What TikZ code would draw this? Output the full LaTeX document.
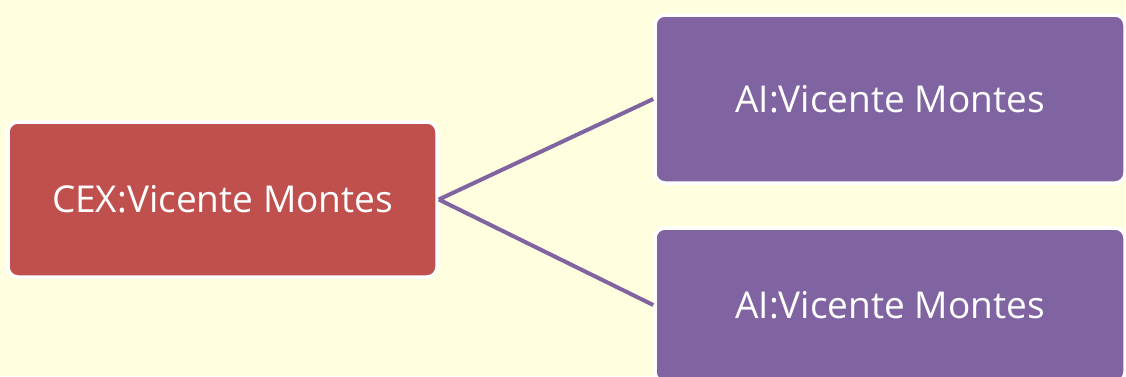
\documentclass[tikz,border=0pt]{standalone}
\usepackage{fontspec}
\setmainfont{Open Sans}
\usepackage{tikz}
\usetikzlibrary{positioning}

\definecolor{bgyellow}{HTML}{FFFFE0}
\definecolor{cexred}{HTML}{C0504D}
\definecolor{aipurple}{HTML}{8064A2}

\tikzset{
  box/.style={rectangle, rounded corners=10pt, draw=white, line width=3.5pt,
    text=white, font=\fontsize{37}{44}\selectfont, inner sep=0pt}
}

\begin{document}
\begin{tikzpicture}[x=1pt,y=-1pt]
  \fill[bgyellow] (0,0) rectangle (1126,376);
  \useasboundingbox (0,0) rectangle (1126,376);
  \clip (0,0) rectangle (1126,376);
			\node[box, fill=cexred, minimum width=429pt, minimum height=155pt] (cex) at (222.5,199.5) {CEX:Vicente Montes};
			\node[box, fill=aipurple, minimum width=470pt, minimum height=168pt] (aitop) at (890,99) {AI:Vicente Montes};
			\node[box, fill=aipurple, minimum width=470pt, minimum height=154pt] (aibot) at (890,305) {AI:Vicente Montes};
			\draw[aipurple, line width=4pt]
				(cex.east) -- (aitop.west)
				(cex.east) -- (aibot.west);
		\end{tikzpicture}
\end{document}
